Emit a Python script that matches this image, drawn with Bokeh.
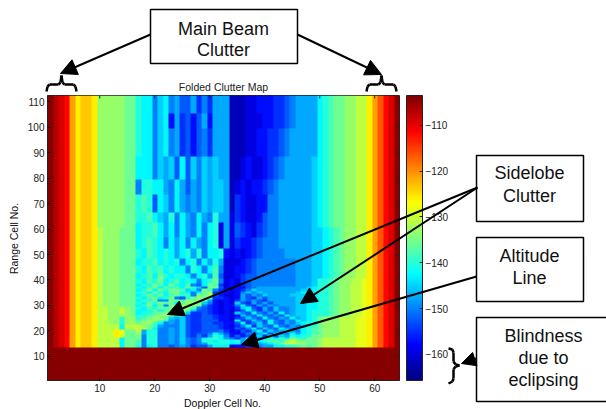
import numpy as np
from bokeh.plotting import figure
from bokeh.embed import file_html
from bokeh.resources import INLINE
from bokeh.models import (LinearColorMapper, ColorBar, FixedTicker, Label, Arrow, NormalHead, BoxAnnotation)

# clutter levels, dB, one letter per level: a=-164 ... z=-104
LEVEL_LETTERS = "abcdefghijklmnopqrstuvwxyz"
LEVEL_DB = [-164.0, -162.0, -159.5, -157.0, -154.8, -152.4, -150.0, -147.6, -145.2, -142.8, -140.4, -138.0, -135.6,
            -133.2, -130.8, -128.4, -126.0, -123.6, -121.2, -118.8, -116.4, -114.0, -111.6, -109.2, -106.8, -104.0]

# Doppler cells 1..16: (first row, last row, letters)
LEFT_BANDS = [(14, 17, "zyxwsqrrqoooojmm"), (18, 20, "zyxwsqrrqoooqpmm"), (21, 22, "zyxwsqrrqoooojoo"),
              (23, 25, "zyxwsqrrqoonnknn"), (26, 29, "zyxwsqrrqoonnonm"), (30, 60, "zyxwsqrrqonnnmmm"),
              (61, 112, "zyxwsqrrqnnnnnmm")]
# Doppler cells 17..49
MID_BANDS = [(14, 14, "kgjkggfghgeffhjjjcddeeghhjjkklmlm"), (15, 15, "lgkkgghgigfghkkkkjjgfghijkmoonnmm"),
             (16, 16, "lgkkgghgigfgkkjkkjkhgijklmknonmmm"), (17, 17, "mgkkgghgigfgjkljhgehjigjkjljmlkmm"),
             (18, 18, "mgkkgghgifegehkjgdfdfgiejfihkjkkm"), (19, 19, "nhkkgghgifeffgjhfdcegfhjfihgjhjkl"),
             (20, 20, "ohkkgghgifeefffgecdfehjfighjhgjkl"), (21, 21, "oomjgghgifeefffeddfegjfigfjhgijkl"),
             (22, 22, "onmkhgggifeefffedcegjeigfjgfhgikk"), (23, 23, "mnnljghgifeeffeeddfjegifjgfhgijkk"),
             (24, 24, "lmnnmkhgifeefffddcjefigfjgfhgjijk"), (25, 25, "klmnnmihifeeffeddcefigfjgfhgjhijk"),
             (26, 26, "kklmnnnlkfeeffeddcdigfjgfhfjhiijk"), (27, 27, "jkklmmmnmieefedcdcigfjgfhfjghiijk"),
             (28, 28, "jjkmjlmnnliffedcdcdfjgehfigghiijk"), (29, 29, "kjlkmlmkmnlgfedcdceijfehfigghiijj"),
             (30, 30, "jkmjlgmlnmnmgedcddgjfehfhghhhiijj"), (31, 31, "kjmkmlmjmnnnigdcdcifehfhfhhhhiijj"),
             (32, 32, "jlkmggmmlnmnmhdcdcehfhfehhhhhiiij"), (33, 33, "kjlmjkmgfkmnmleedcdhfehfhhhhhiiij"),
             (34, 34, "jkmkmjlmklgmmnfdccdhfhgihhhhiiijj"), (35, 35, "kljmkjmmkjgjmneedcdgigihhhhhhijjj"),
             (36, 36, "jkmjmkmmlijgmlgedcdegihhhhhhhhiij"), (37, 37, "kjlmjmkljmkifmmfccddfghhhhhhhhhij"),
             (38, 38, "jkkmljmkjlgfjmlecdcefgggggggghhhi"), (39, 40, "kjlkmjkljkjgjkmgcdcefgggggggghhhi"),
             (41, 42, "jkljmkjkkjgjkhlfccdeffggggggghhhi"), (43, 45, "kjlkljkjjgkjgjlgccddefggggggghhhi"),
             (46, 48, "jkkljkjkgjkgjhkhcccdefggggggghhhi"), (49, 52, "kjlkjkjhjkhkgjjkdcdcdefgggghhhhhi"),
             (53, 56, "jklkjgjhjgjhgjkchceddefggghhhhhhi"), (57, 62, "jkkljhjgjhgjgjkchcfedcefgghhhhhhi"),
             (63, 66, "kkljihkgjhgjhgkhhcedccdfgghhhhhhi"), (67, 73, "klkfjigjhghgihiihbedccddgghhhhhhi"),
             (74, 79, "gkkjjhgjhfhgihiihbcdcddefghhhhhhi"), (80, 88, "jjjgihifjfigihihhbbcdccdefghhhhhi"),
             (89, 99, "kjjgijghefdfgehhhbbbccddeefghhhhh"), (100, 105, "kjjgijdhefdfhdhhhbbbcccddeefghhhh"),
             (106, 112, "kjjgijghffhegehhhbbbccdddeefghhhh")]
# Doppler cells 50..64
RIGHT_BANDS = [(14, 17, "nooooooppqsuwxz"), (18, 25, "mnnnoooppqsuwxz"), (26, 40, "kklmnnoopqsuwxz"),
               (41, 60, "ijklmnnooqsuwxz"), (61, 112, "jklmmnnooqsuwxz")]

X_TICKS = [10, 20, 30, 40, 50, 60]
Y_TICKS = [10, 20, 30, 40, 50, 60, 70, 80, 90, 100, 110]
BAR_TICKS = [-160, -150, -140, -130, -120, -110]
DB_LOW, DB_HIGH = -165.7, -103.5
X_MIN, X_MAX, Y_MIN, Y_MAX = 0.5, 64.5, 0.5, 112.5

lookup = dict(zip(LEVEL_LETTERS, LEVEL_DB))
grid = np.full((112, 64), LEVEL_DB[-1])  # range cells 1..13 are eclipsed
for bands, start, n in ((LEFT_BANDS, 0, 16), (MID_BANDS, 16, 33), (RIGHT_BANDS, 49, 15)):
    for first, last, letters in bands:
        assert len(letters) == n, letters
        grid[first - 1:last, start:start + n] = [lookup[c] for c in letters]

t = np.linspace(0, 1, 256)
jet = ["#%02x%02x%02x" % (int(255 * r), int(255 * g), int(255 * b)) for r, g, b in zip(
    np.clip(np.minimum(4 * t - 1.5, -4 * t + 4.5), 0, 1),
    np.clip(np.minimum(4 * t - 0.5, -4 * t + 3.5), 0, 1),
    np.clip(np.minimum(4 * t + 0.5, -4 * t + 2.5), 0, 1))]
mapper = LinearColorMapper(palette=jet, low=DB_LOW, high=DB_HIGH)

W, H = 606, 409
FL, FT, FW, FH = 47, 95, 352, 285
p = figure(width=W, height=H, output_backend="svg", toolbar_location=None,
           x_range=(X_MIN, X_MAX), y_range=(Y_MIN, Y_MAX), x_axis_label=None, y_axis_label=None,
           min_border_left=FL, min_border_right=W - FL - FW, min_border_top=FT, min_border_bottom=H - FT - FH,
           title="Folded Clutter Map", background_fill_color="white")
p.image(image=[grid], x=X_MIN, y=Y_MIN, dw=X_MAX - X_MIN, dh=Y_MAX - Y_MIN, color_mapper=mapper)
p.grid.visible = False
p.outline_line_color = "#222222"
p.title.align = "center"
p.title.text_font = "Liberation Sans"
p.title.text_font_size = "10.5px"
p.title.text_font_style = "normal"
p.title.text_color = "#222222"
p.title.standoff = 5

for ax, tk in ((p.below[0], X_TICKS), (p.left[0], Y_TICKS)):
    ax.ticker = FixedTicker(ticks=tk)
    ax.major_tick_in, ax.major_tick_out = 3, 0
    ax.minor_tick_line_color = None
    ax.major_label_text_font = "Liberation Sans"
    ax.major_label_text_font_size = "10px"
    ax.major_label_text_color = "#222222"
    ax.major_label_standoff = 3
    ax.axis_line_color = "#222222"

# the same ticks, inside the frame, on its top and right edges (3 px long)
p.segment(x0=X_TICKS, x1=X_TICKS, y0=[Y_MAX] * len(X_TICKS), y1=[Y_MAX - 3 * (Y_MAX - Y_MIN) / FH] * len(X_TICKS),
          line_color="#222222", line_width=1)
p.segment(x0=[X_MAX] * len(Y_TICKS), x1=[X_MAX - 3 * (X_MAX - X_MIN) / FW] * len(Y_TICKS), y0=Y_TICKS, y1=Y_TICKS,
          line_color="#222222", line_width=1)

bar = ColorBar(color_mapper=mapper, ticker=FixedTicker(ticks=BAR_TICKS), width=16, height=FH,
               location=(7, 0), padding=0, margin=0, major_tick_in=3, major_tick_line_color="#222222",
               minor_tick_line_color=None, bar_line_color="#222222", label_standoff=3,
               major_label_text_font="Liberation Sans", major_label_text_font_size="10px",
               major_label_text_color="#222222")
p.add_layout(bar, "right")

# transparent sheet laid over the chart: its scales are page pixels
sheet = figure(width=W, height=H, output_backend="svg", toolbar_location=None, x_range=(0, W), y_range=(H, 0),
               x_axis_location=None, y_axis_location=None, min_border=0, background_fill_alpha=0,
               border_fill_alpha=0, outline_line_color=None, margin=(-H, 0, 0, 0))
sheet.grid.visible = False


def txt(s, x, y, size="18px", angle=0.0):
    sheet.add_layout(Label(x=x, y=y, text=s, text_align="center", text_baseline="middle",
                           text_font="Liberation Sans", text_font_size=size, text_color="#111111",
                           angle=angle, level="overlay"))


def box(l, t, r, b):
    sheet.add_layout(BoxAnnotation(left=l, right=r, top=t, bottom=b, fill_color="white", fill_alpha=1,
                                   line_color="black", line_alpha=1, line_width=1.5, level="annotation"))


def seg(x0, y0, x1, y1, head=0, w=2.0):
    end = NormalHead(size=head, fill_color="black", line_color="black") if head else None
    sheet.add_layout(Arrow(x_start=x0, y_start=y0, x_end=x1, y_end=y1, end=end, line_color="black",
                           line_width=w, level="overlay"))


def poly(points, w=2.0):
    for a, b in zip(points[:-1], points[1:]):
        seg(a[0], a[1], b[0], b[1], 0, w)


txt("Range Cell No.", 13, 238, "10.5px", np.pi / 2)
txt("Doppler Cell No.", 222, 402, "10.5px")

box(150, 9, 297, 63)
txt("Main Beam", 223, 28)
txt("Clutter", 223, 49)
box(476, 155, 583, 221)
txt("Sidelobe", 529, 172)
txt("Clutter", 529, 195)
box(476, 237, 583, 301)
txt("Altitude", 529, 255)
txt("Line", 529, 277)
box(476, 317, 612, 401)
txt("Blindness", 543, 335)
txt("due to", 543, 357)
txt("eclipsing", 543, 379)

seg(150, 34, 60, 73, 16)
seg(297, 34, 381, 74, 16)
seg(477, 187, 167, 314, 16)
seg(477, 187, 300, 303, 16)
seg(476, 276, 241, 344, 16)
seg(476, 358, 461, 363, 14)

for cx in (61, 381):
    poly([(cx - 15, 91), (cx - 14, 86), (cx - 12, 84), (cx - 3, 84), (cx - 1, 82), (cx, 75),
          (cx + 1, 82), (cx + 3, 84), (cx + 12, 84), (cx + 14, 86), (cx + 15, 91)], 2.5)
poly([(448, 348), (452, 349), (453, 352), (453, 361), (455, 364), (459, 365), (455, 366), (453, 369),
      (453, 378), (452, 381), (448, 383)], 2.5)

open("out.html", "w").write(file_html((p, sheet), INLINE))
